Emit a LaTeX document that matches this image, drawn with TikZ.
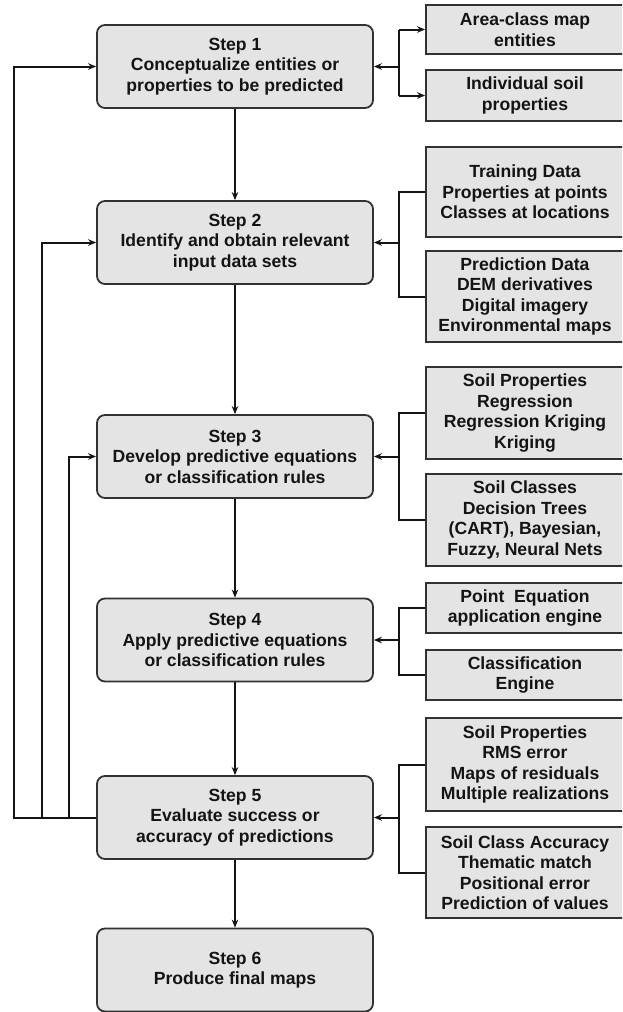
\documentclass[tikz,border=0pt]{standalone}
\usepackage{fontspec}
\setmainfont{Liberation Sans}
\usetikzlibrary{arrows.meta}
\definecolor{boxfill}{RGB}{228,228,228}
\definecolor{boxline}{RGB}{50,50,50}
\definecolor{ink}{RGB}{20,20,20}
\begin{document}
\begin{tikzpicture}[x=1pt,y=-1pt,
  stepbox/.style={draw=boxline,line width=1.8pt,fill=boxfill,rounded corners=8pt,
    minimum width=276pt,minimum height=83pt,inner sep=0pt,align=center,text=ink,
    font=\fontsize{17.6}{20.5}\selectfont\bfseries},
  infobox/.style={draw=boxline,line width=1.8pt,fill=boxfill,
    minimum width=198pt,inner sep=0pt,align=center,text=ink,
    font=\fontsize{17.6}{20.5}\selectfont\bfseries},
  link/.style={draw=ink,line width=2pt},
  arr/.style={link,-{Stealth[length=8pt,width=6.5pt]}}]
\useasboundingbox (0,0) rectangle (622,1012);
\clip (0,0) rectangle (622,1012);
\fill[white] (0,0) rectangle (622,1012);

% main sequence of steps
\node[stepbox] (s1) at (235,66.5) {Step 1\\Conceptualize entities or\\properties to be predicted};
\node[stepbox] (s2) at (235,242.5) {Step 2\\Identify and obtain relevant\\input data sets};
\node[stepbox] (s3) at (235,456.5) {Step 3\\Develop predictive equations\\or classification rules};
\node[stepbox] (s4) at (235,640) {Step 4\\Apply predictive equations\\or classification rules};
\node[stepbox] (s5) at (235,817.5) {Step 5\\Evaluate success or\\accuracy of predictions};
\node[stepbox] (s6) at (235,970) {Step 6\\Produce final maps};

% detail boxes on the right
\node[infobox,minimum height=49pt] (r1a) at (525,29.5) {Area-class map\\entities};
\node[infobox,minimum height=51pt] (r1b) at (525,95.5) {Individual soil\\properties};
\node[infobox,minimum height=90pt] (r2a) at (525,192) {Training Data\\Properties at points\\Classes at locations};
\node[infobox,minimum height=91pt] (r2b) at (525,296.5) {Prediction Data\\DEM derivatives\\Digital imagery\\Environmental maps};
\node[infobox,minimum height=92pt] (r3a) at (525,413) {Soil Properties\\Regression\\Regression Kriging\\Kriging};
\node[infobox,minimum height=92pt] (r3b) at (525,520) {Soil Classes\\Decision Trees\\(CART), Bayesian,\\Fuzzy, Neural Nets};
\node[infobox,minimum height=50pt] (r4a) at (525,608) {Point~ Equation\\application engine};
\node[infobox,minimum height=50pt] (r4b) at (525,675) {Classification\\Engine};
\node[infobox,minimum height=93pt] (r5a) at (525,764.5) {Soil Properties\\RMS error\\Maps of residuals\\Multiple realizations};
\node[infobox,minimum height=91pt] (r5b) at (525,872.5) {Soil Class Accuracy\\Thematic match\\Positional error\\Prediction of values};

% x positions of the bracket and the feedback lines
\coordinate (bx) at (399,0);
\coordinate (fx1) at (14,0);
\coordinate (fx2) at (42,0);
\coordinate (fx3) at (69,0);

% downward flow
\draw[arr] (s1) -- (s2);
\draw[arr] (s2) -- (s3);
\draw[arr] (s3) -- (s4);
\draw[arr] (s4) -- (s5);
\draw[arr] (s5) -- (s6);

% step 1 branches out to both kinds of targets
\draw[link] (r1a.west -| bx) -- (r1b.west -| bx);
\draw[arr] (r1a.west -| bx) -- (r1a.west);
\draw[arr] (r1b.west -| bx) -- (r1b.west);
\draw[arr] (s1.east -| bx) -- (s1.east);

% inputs feeding steps 2 to 5
\draw[link] (r2a.west) -- (r2a.west -| bx) -- (r2b.west -| bx) -- (r2b.west);
\draw[arr] (s2.east -| bx) -- (s2.east);
\draw[link] (r3a.west) -- (r3a.west -| bx) -- (r3b.west -| bx) -- (r3b.west);
\draw[arr] (s3.east -| bx) -- (s3.east);
\draw[link] (r4a.west) -- (r4a.west -| bx) -- (r4b.west -| bx) -- (r4b.west);
\draw[arr] (s4.east -| bx) -- (s4.east);
\draw[link] (r5a.west) -- (r5a.west -| bx) -- (r5b.west -| bx) -- (r5b.west);
\draw[arr] (s5.east -| bx) -- (s5.east);

% feedback from step 5 to steps 1, 2 and 3
\draw[arr] (s5.west) -- (s5.west -| fx1) -- (s1.west -| fx1) -- (s1.west);
\draw[arr] (s5.west -| fx2) -- (s2.west -| fx2) -- (s2.west);
\draw[arr] (s5.west -| fx3) -- (s3.west -| fx3) -- (s3.west);
\end{tikzpicture}
\end{document}
